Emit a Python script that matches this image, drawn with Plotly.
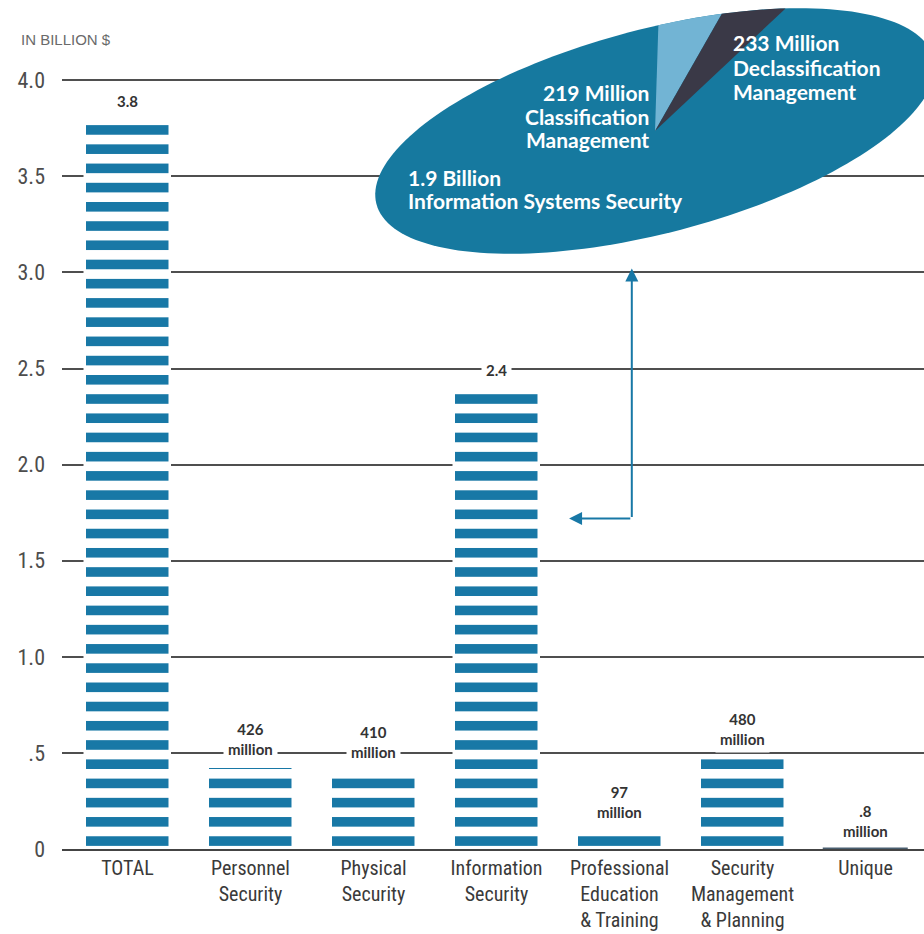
import math
import plotly.graph_objects as go

# ---------------- data ----------------
categories = ["TOTAL", "Personnel Security", "Physical Security", "Information Security",
              "Professional Education & Training", "Security Management & Planning", "Unique"]
tick_labels = ["TOTAL", "Personnel<br>Security", "Physical<br>Security", "Information<br>Security",
               "Professional<br>Education<br>& Training", "Security<br>Management<br>& Planning", "Unique"]
values_billion = [3.8, 0.426, 0.410, 2.4, 0.097, 0.480, 0.0008]
value_labels = ["3.8", "426<br>million", "410<br>million", "2.4", "97<br>million", "480<br>million", ".8<br>million"]

y_tick_vals = [0, 0.5, 1.0, 1.5, 2.0, 2.5, 3.0, 3.5, 4.0]
y_tick_text = ["0", ".5", "1.0", "1.5", "2.0", "2.5", "3.0", "3.5", "4.0"]

# breakdown of Information Security (millions)
breakdown_names = ["Information Systems Security", "Classification Management", "Declassification Management"]
breakdown_values_m = [1900, 219, 233]

# ---------------- style / layout constants ----------------
W, H = 924, 934
PLOT_L, PLOT_R, PLOT_T, PLOT_B = 62, 0, 5, 85
PLOT_W = W - PLOT_L - PLOT_R
PLOT_H = H - PLOT_T - PLOT_B
PX_PER_UNIT = 192.2
Y_MAX = PLOT_H / PX_PER_UNIT
CAT_PX = 123.0
X_MIN = -(127.5 - PLOT_L) / CAT_PX
X_MAX = X_MIN + PLOT_W / CAT_PX

BLUE = "#1878a6"
ELLIPSE_BLUE = "#16799f"
LIGHT = "#72b4d4"
DARK = "#3a3947"
GRID = "#4f4f4f"
NARROW = ("Roboto Condensed, Liberation Sans Narrow, Noto Sans Condensed, "
          "DejaVu Sans Condensed, Arial Narrow, Roboto, sans-serif")
HEAVY = "Lato, DejaVu Sans, sans-serif"


def to_paper(px, py):
    return (px - PLOT_L) / PLOT_W, (PLOT_T + PLOT_H - py) / PLOT_H


# ellipse geometry (screen px)
ECX, ECY, EA, EB, ETILT = 655, 131, 288, 102, math.radians(14.7)
DEG_PER_MILLION = 0.06
WEDGE_START = 84.0


def ell_point(tdeg):
    t = math.radians(tdeg)
    dx = EA * math.cos(t) * math.cos(ETILT) - EB * math.sin(t) * math.sin(ETILT)
    dy = EA * math.cos(t) * math.sin(ETILT) + EB * math.sin(t) * math.cos(ETILT)
    return to_paper(ECX + dx, ECY - dy)


def path_from(points, close=True):
    s = "M" + " L".join(f"{x:.5f},{y:.5f}" for x, y in points)
    return s + (" Z" if close else "")


ellipse_pts = [ell_point(t) for t in range(0, 360, 2)]
shapes = [dict(type="path", xref="paper", yref="paper", path=path_from(ellipse_pts),
               fillcolor=ELLIPSE_BLUE, line=dict(width=0), layer="above")]

t0 = WEDGE_START
for val, col in zip(breakdown_values_m[1:], [LIGHT, DARK]):
    t1 = t0 - val * DEG_PER_MILLION
    n = 12
    arc = [ell_point(t0 + (t1 - t0) * i / n) for i in range(n + 1)]
    pts = [to_paper(ECX, ECY)] + arc
    shapes.append(dict(type="path", xref="paper", yref="paper", path=path_from(pts),
                       fillcolor=col, line=dict(width=0), layer="above"))
    t0 = t1

# ---------------- figure ----------------
fig = go.Figure()
line_colors = ["white"] * (len(categories) - 1) + ["#4a5f70"]
fig.add_trace(go.Bar(
    x=categories, y=values_billion, width=0.69,
    marker=dict(
        color="white",
        line=dict(color=line_colors, width=2.5),
        pattern=dict(shape="-", fgcolor=BLUE, bgcolor="white", size=PX_PER_UNIT * 0.1,
                     solidity=0.5, fillmode="replace"),
    ),
    hoverinfo="skip",
))

annotations = []
for cat, v, lab in zip(categories, values_billion, value_labels):
    annotations.append(dict(
        x=cat, y=v, xref="x", yref="y", text=lab, showarrow=False,
        yanchor="bottom", yshift=4, bgcolor="white", borderpad=4,
        font=dict(family=HEAVY, size=15, color="#333333", weight="bold"),
    ))


# ellipse texts
def txt(s, px, py, anchor):
    x, y = to_paper(px, py)
    annotations.append(dict(x=x, y=y, xref="paper", yref="paper", text=s, showarrow=False,
                            xanchor=anchor, yanchor="middle",
                            font=dict(family=HEAVY, size=21, color="white", weight="bold")))


dec_lines = [f"{breakdown_values_m[2]} Million", "Declassification", "Management"]
for i, s in enumerate(dec_lines):
    txt(s, 731, 43 + 24 * i, "left")
cls_lines = [f"{breakdown_values_m[1]} Million", "Classification", "Management"]
for i, s in enumerate(cls_lines):
    txt(s, 651, 92 + 24 * i, "right")
isys_lines = [f"{breakdown_values_m[0] / 1000:.1f} Billion", breakdown_names[0]]
for i, s in enumerate(isys_lines):
    txt(s, 406, 177 + 24 * i, "left")

# axis unit label
ux, uy = to_paper(19, 40)
annotations.append(dict(x=ux, y=uy, xref="paper", yref="paper", text="IN BILLION $",
                        showarrow=False, xanchor="left", yanchor="middle",
                        font=dict(family="Liberation Sans, Arial, sans-serif", size=15, color="#6a6a6a")))

# connector arrow from Information Security bar to the breakdown ellipse
info_i = categories.index("Information Security")
corner_x = info_i + 1.1
corner_y = 1.72
top_y = 3.02
left_x = info_i + 0.5 + 0.09
annotations.append(dict(x=corner_x, y=top_y, ax=corner_x, ay=corner_y, xref="x", yref="y",
                        axref="x", ayref="y", text="", showarrow=True, arrowhead=2,
                        arrowsize=1.3, arrowwidth=2, arrowcolor=BLUE))
annotations.append(dict(x=left_x, y=corner_y, ax=corner_x, ay=corner_y, xref="x", yref="y",
                        axref="x", ayref="y", text="", showarrow=True, arrowhead=2,
                        arrowsize=1.3, arrowwidth=2, arrowcolor=BLUE))

fig.update_layout(
    width=W, height=H,
    margin=dict(l=PLOT_L, r=PLOT_R, t=PLOT_T, b=PLOT_B, pad=0),
    paper_bgcolor="white", plot_bgcolor="white",
    showlegend=False,
    shapes=shapes,
    annotations=annotations,
    bargap=0,
    xaxis=dict(
        type="category", categoryorder="array", categoryarray=categories,
        range=[X_MIN, X_MAX], tickvals=categories, ticktext=tick_labels,
        showgrid=False, zeroline=False, showline=True, linecolor="#444444", linewidth=2,
        ticks="", tickfont=dict(family=NARROW, size=20, color="#3a3a3a"),
        fixedrange=True,
    ),
    yaxis=dict(
        range=[0, Y_MAX], tickvals=y_tick_vals, ticktext=y_tick_text,
        showgrid=True, gridcolor=GRID, gridwidth=1.6, zeroline=False, showline=False,
        ticks="", ticklabelstandoff=16,
        tickfont=dict(family=NARROW, size=22, color="#4d4d4d"),
        fixedrange=True,
    ),
)

fig.write_html("out.html", config={"displayModeBar": False},
               post_script="document.body.style.margin='0';")
